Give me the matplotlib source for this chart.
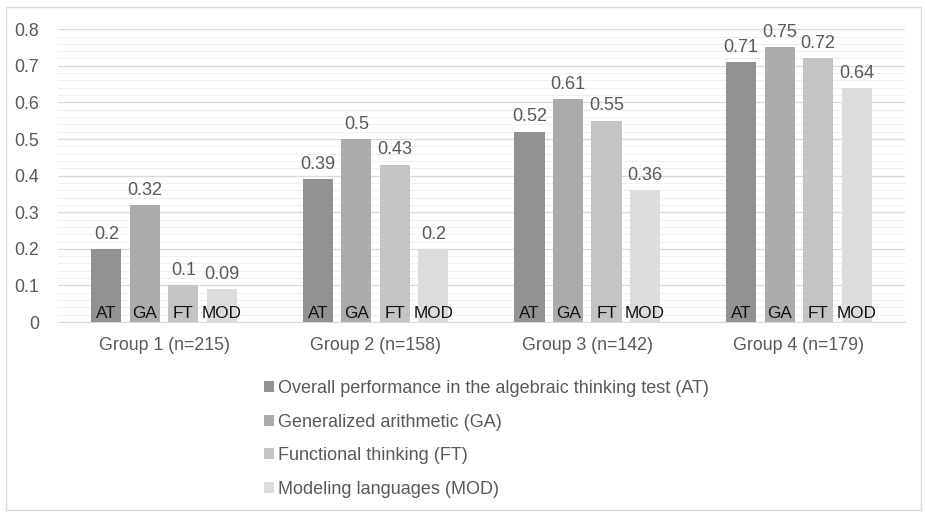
import numpy as np
import matplotlib.pyplot as plt
from matplotlib.patches import Rectangle, Patch
from matplotlib.ticker import MultipleLocator

plt.rcParams['font.family'] = ['Liberation Sans', 'DejaVu Sans']

groups = ['Group 1 (n=215)', 'Group 2 (n=158)', 'Group 3 (n=142)', 'Group 4 (n=179)']
series = ['Overall performance in the algebraic thinking test (AT)',
          'Generalized arithmetic (GA)',
          'Functional thinking (FT)',
          'Modeling languages (MOD)']
short = ['AT', 'GA', 'FT', 'MOD']
at = [0.2, 0.39, 0.52, 0.71]
ga = [0.32, 0.5, 0.61, 0.75]
ft = [0.1, 0.43, 0.55, 0.72]
mod = [0.09, 0.2, 0.36, 0.64]
values = [at, ga, ft, mod]
colors = ['#929292', '#ababab', '#c4c4c4', '#dcdcdc']

fig = plt.figure(figsize=(9.25, 5.12), dpi=100)
ax = fig.add_axes([0.063, 0.371, 0.915, 0.572])

x = np.arange(len(groups))
width = 0.142
step = 0.182
text_gray = '#595959'

for i, vals in enumerate(values):
    pos = x + (i - 1.5) * step
    ax.bar(pos, vals, width, color=colors[i], zorder=3)
    for p, v in zip(pos, vals):
        ax.text(p, v + 0.017, f'{v:g}', ha='center', va='bottom',
                fontsize=13, color=text_gray)
        ax.text(p, 0.004, short[i], ha='center', va='bottom',
                fontsize=12.3, color='#111111', zorder=4)

ax.set_xlim(-0.5, len(groups) - 0.5)
ax.set_ylim(0, 0.8)
ax.yaxis.set_major_locator(MultipleLocator(0.1))
ax.yaxis.set_minor_locator(MultipleLocator(0.02))
ax.set_yticks(np.arange(0, 0.81, 0.1))
ax.set_yticklabels(['0'] + [f'{t:.1f}' for t in np.arange(0.1, 0.81, 0.1)])
ax.grid(axis='y', which='major', color='#d9d9d9', linewidth=0.9, zorder=0)
ax.grid(axis='y', which='minor', color='#efefef', linewidth=0.8, zorder=0)
ax.set_xticks(x)
ax.set_xticklabels(groups)
ax.tick_params(axis='both', which='both', length=0, labelsize=12.8,
               labelcolor=text_gray)
ax.tick_params(axis='x', pad=11)
ax.tick_params(axis='y', pad=14)
for s in ['top', 'right', 'left']:
    ax.spines[s].set_visible(False)
ax.spines['bottom'].set_color('#d9d9d9')

handles = [Patch(facecolor=c, edgecolor='none') for c in colors]
fig.legend(handles, series, loc='upper left', bbox_to_anchor=(0.2775, 0.272),
           frameon=False, fontsize=13, labelcolor=text_gray,
           handlelength=0.55, handleheight=0.55, handletextpad=0.25,
           labelspacing=0.92, borderaxespad=0)

fig.patches.append(Rectangle((0.006, 0.004), 0.99, 0.982, transform=fig.transFigure,
                             fill=False, edgecolor='#d9d9d9', linewidth=1))

fig.savefig('out.png', dpi=100)
